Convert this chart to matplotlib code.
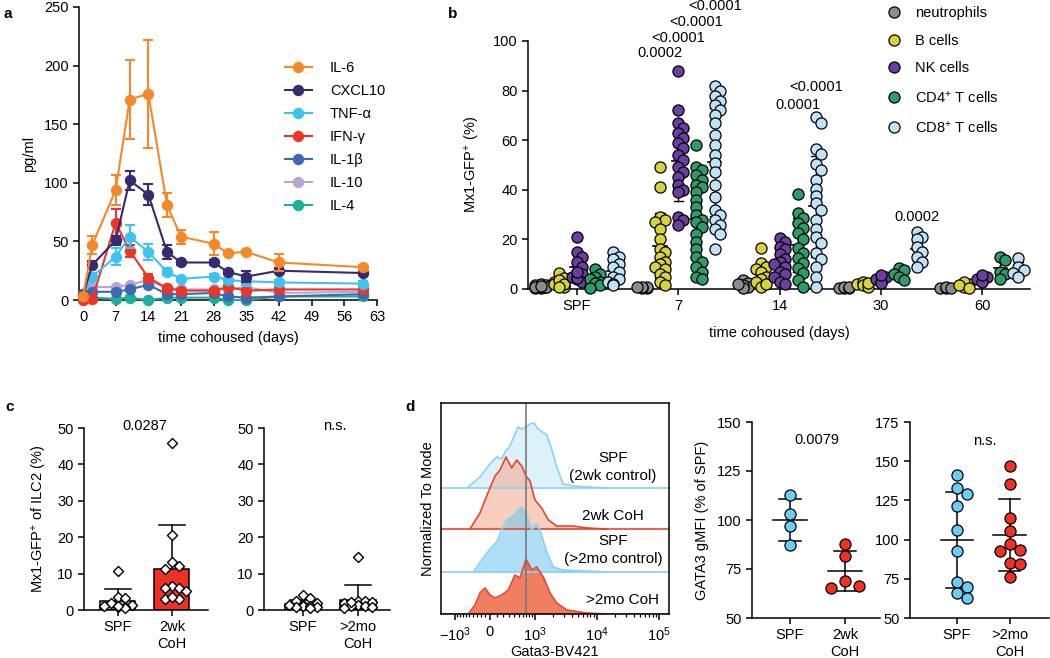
import matplotlib

matplotlib.use("Agg")

import matplotlib.pyplot as plt
import numpy as np
from matplotlib.lines import Line2D

plt.rcParams["font.family"] = ["Liberation Sans", "DejaVu Sans"]
plt.rcParams["mathtext.fontset"] = "custom"
plt.rcParams["mathtext.rm"] = "Liberation Sans"
plt.rcParams["mathtext.it"] = "Liberation Sans:italic"
plt.rcParams["mathtext.bf"] = "Liberation Sans:bold"
plt.rcParams["font.size"] = 10.5
plt.rcParams["axes.linewidth"] = 1.1
plt.rcParams["xtick.major.width"] = 1.1
plt.rcParams["ytick.major.width"] = 1.1
plt.rcParams["xtick.major.size"] = 4
plt.rcParams["ytick.major.size"] = 4

# --- panel a: serum cytokines over time ---
DAYS = [0, 2, 7, 10, 14, 18, 21, 28, 31, 35, 42, 60]
CYTOKINES = ["IL-6", "CXCL10", "TNF-α", "IFN-γ", "IL-1β", "IL-10", "IL-4"]
IL6 = [3, 47, 94, 171, 176, 81, 54, 48, 40, 41, 32, 28]
IL6_SEM = [0, 8, 13, 34, 46, 10, 6, 10, 1, 2, 7, 2]
CXCL10 = [4, 30, 51, 102, 90, 41, 32, 32, 24, 20, 25, 23]
CXCL10_SEM = [0, 3, 4, 8, 9, 6, 2, 2, 2, 5, 2, 2]
TNFA = [3, 20, 37, 54, 41, 24, 18, 20, 17, 16, 15, 14]
TNFA_SEM = [0, 3, 7, 10, 7, 3, 2, 2, 2, 2, 2, 2]
IFNG = [0, 1, 66, 42, 19, 10, 8, 8, 11, 8, 9, 9]
IFNG_SEM = [0, 1, 12, 5, 3, 2, 1, 1, 2, 1, 1, 1]
IL1B = [5, 7, 7, 9, 13, 5, 5, 6, 3, 2, 3, 5]
IL10 = [5, 11, 11, 13, 17, 10, 9, 9, 9, 11, 6, 7]
IL4 = [2, 2, 1, 2, 0, 2, 2, 2, 0, 0, 3, 3]
SMALL_SEM = [1] * len(DAYS)
CYTO_COLORS = ["#F5892A", "#372A6E", "#3EC3F0", "#EC3527", "#3C69B3", "#B7A5D4", "#1DAF98"]

# --- panel b: Mx1-GFP+ per cell type, per time point ---
B_GROUPS = ["SPF", "7", "14", "30", "60"]
CELL_TYPES = ["neutrophils", "B cells", "NK cells", "CD4$^{+}$ T cells", "CD8$^{+}$ T cells"]
CELL_COLORS = ["#8C8C8C", "#D8D23C", "#6A3FA0", "#2E9C6A", "#BFE2F6"]
NEUTROPHILS = [
    [0.5, 1, 1, 1.5, 2, 0.5, 1, 1.5, 0.8, 1.2],
    [0.5, 1, 0.5, 1, 0.8],
    [3.5, 2.5, 1, 1.5, 0.5, 2],
    [0.5, 0.5, 1, 0.3, 0.8],
    [0.5, 0.3, 0.8, 0.5],
]
B_CELLS = [
    [6.5, 4.5, 3, 2.5, 2, 1.5, 1, 3.5, 2, 1],
    [49, 41, 29, 28, 27, 24, 20, 16, 15, 13, 11, 10, 9, 8, 6, 5, 3, 1.5],
    [16.5, 10.5, 9, 8, 7, 5, 4, 3, 1, 2],
    [2, 3, 1.5, 0.8, 2.5],
    [1, 2, 3, 1.5, 0.5],
]
NK_CELLS = [
    [21, 15, 13, 11, 9, 6, 5, 4, 3, 4.5, 7],
    [88, 72, 67, 65, 63, 61, 59, 57, 54, 52, 49, 47, 45, 42, 40, 39, 29, 28, 26],
    [20.5, 19, 17, 16, 14, 12, 11, 10, 9, 7, 6, 5, 3, 2],
    [5, 4, 3, 2.5, 5.5],
    [4, 5, 3, 5.5],
]
CD4_T = [
    [8, 6, 5, 3, 2, 1, 4, 2.5, 1.5, 0.5],
    [58, 49, 48, 46, 44, 42, 41, 39, 36, 33, 30, 28, 27, 25, 22, 19, 16, 13, 11, 9, 7, 5, 4],
    [38.5, 30.5, 28.5, 26.5, 24.5, 22.5, 20, 16.5, 14.5, 12.5, 10.5, 8.5, 6.5, 3.5, 1],
    [8.5, 7.5, 6, 5, 3.5],
    [13, 11.5, 7, 6, 4],
]
CD8_T = [
    [15, 13, 12, 10, 9, 7, 5, 4, 3, 2, 1.5],
    [82, 80, 78, 76, 74, 72, 70, 67, 62, 58, 54, 51, 47, 42, 37, 32, 30, 28, 26, 24, 22, 16],
    [69.5, 67, 56.5, 54.5, 50.5, 48, 44, 40.5, 37.5, 34.5, 32, 28, 24, 21, 18.5, 14.5,
     12, 9, 5, 1],
    [23, 21, 20, 17, 15, 13, 11, 9],
    [12.5, 9, 7.5, 6.5, 5],
]
B_PVALS = [(1, 1, "0.0002", 95), (1, 2, "<0.0001", 101.3), (1, 3, "<0.0001", 107.7),
           (1, 4, "<0.0001", 114), (2, 3, "0.0001", 74), (2, 4, "<0.0001", 81.5),
           (3, 4, "0.0002", 29)]

# --- panel c: Mx1-GFP+ of ILC2 ---
C1_SPF = [10.8, 3.7, 3.3, 2.0, 1.5, 1.0, 0.8, 0.9, 0.6, 1.0]
C1_COH = [45.8, 20.7, 13.3, 12.0, 11.4, 6.6, 6.1, 5.3, 3.0, 2.9, 3.5, 6.1]
C2_SPF = [4.0, 3.2, 2.4, 2.0, 1.5, 1.2, 1.0, 0.8, 0.5, 0.9, 1.4]
C2_COH = [14.5, 2.6, 2.4, 2.2, 1.9, 1.5, 1.0, 0.5, 2.3, 1.2, 0.8]

# --- panel d: Gata3 histograms (logicle display units) ---
H1_X = [-23, -10, 0, 6.7, 11.7, 16, 19, 23, 28, 31.7, 36, 40, 44, 48, 52.7, 56.7, 61.7,
        66.7, 73, 83, 96.7, 116.7]
H1_Y = [0, 11, 24, 31, 29, 38, 40, 49, 61, 59, 61, 64, 65, 59, 56, 53, 39, 21, 4, 2, 1, 0]
H2_X = [-20, -10, -3.3, 5, 10, 16, 21.7, 26.7, 31.7, 36, 40, 45, 51.7, 58.3, 66.7, 83,
        96.7, 116.7]
H2_Y = [0, 16, 33, 53, 59, 72, 61, 69, 63, 53, 48, 29, 21, 9, 3, 3, 1, 0]
H3_X = [-16.7, -8.3, 0, 6.7, 11.7, 16.7, 21.7, 26.7, 31.7, 36.7, 41.7, 46, 50, 56.7, 63.3,
        73.3, 96.7, 116.7]
H3_Y = [0, 12, 23, 30, 42, 52, 55, 60, 65, 57, 42, 48, 42, 20, 5, 2, 1, 0]
H4_X = [-21.7, -15, -10, -5, 0, 5, 11.7, 18.3, 25, 30, 36, 41.7, 46.7, 53.3, 60, 66.7,
        76.7, 96.7, 116.7]
H4_Y = [0, 9, 21, 26, 19, 16, 19, 24, 39, 36, 55, 44, 47, 37, 21, 11, 4, 1, 0]
HIST_LABELS = ["SPF\n(2wk control)", "2wk CoH", "SPF\n(>2mo control)", ">2mo CoH"]

# --- panel d: GATA3 gMFI ---
D1_SPF = [112.6, 102.9, 97.0, 87.0]
D1_COH = [87.8, 81.6, 68.7, 65.3, 66.5]
D2_SPF = [141.4, 133.1, 129.4, 121.4, 106.4, 92.7, 73.0, 69.8, 66.0, 62.8]
D2_COH = [147.2, 135.3, 113.6, 105.5, 97.4, 92.6, 93.6, 85.3, 84.7, 76.2]

SPF_BLUE = "#6CCDF4"
COH_RED = "#EE3124"


def swarm(vals, dy, dx, max_k):
    """Simple beeswarm: spread points sideways when their values are close."""
    vals = np.asarray(vals, float)
    slots = np.zeros(len(vals), int)
    cands = [0]
    for k in range(1, max_k + 1):
        cands += [k, -k]
    placed = []
    for i in np.argsort(vals)[::-1]:
        best, best_hits = 0, None
        for c in cands:
            hits = sum(1 for j in placed if abs(vals[i] - vals[j]) < dy and slots[j] == c)
            if hits == 0:
                best = c
                break
            if best_hits is None or hits < best_hits:
                best, best_hits = c, hits
        slots[i] = best
        placed.append(i)
    return slots * dx


def clean(ax):
    ax.spines["top"].set_visible(False)
    ax.spines["right"].set_visible(False)


fig = plt.figure(figsize=(10.5, 6.58), dpi=100)


def ax_px(left, top, right, bottom):
    return fig.add_axes([left / 1050, 1 - bottom / 658, (right - left) / 1050,
                         (bottom - top) / 658])


# ---------------- panel a ----------------
ax = ax_px(79, 7, 377, 300)
series = [(IL6, IL6_SEM), (CXCL10, CXCL10_SEM), (TNFA, TNFA_SEM), (IFNG, IFNG_SEM),
          (IL1B, SMALL_SEM), (IL10, SMALL_SEM), (IL4, SMALL_SEM)]
for k in range(len(series) - 1, -1, -1):
    vals, sem = series[k]
    ax.errorbar(DAYS, vals, yerr=sem, color=CYTO_COLORS[k], marker="o", ms=7.2, lw=1.5,
                capsize=3.5, capthick=1.5, elinewidth=1.5, clip_on=False,
                zorder=3 + (len(series) - k) * 0.1)
ax.set_xlim(-0.86, 63)
ax.set_ylim(0, 250)
ax.set_xticks(range(0, 64, 7))
ax.set_yticks(range(0, 251, 50))
ax.set_xlabel("time cohoused (days)", labelpad=5)
ax.set_ylabel("pg/ml", labelpad=6)
clean(ax)
a_handles = [Line2D([], [], color=col, marker="o", ms=7.2, lw=1.5) for col in CYTO_COLORS]
ax.legend(a_handles, CYTOKINES, loc="upper left", bbox_to_anchor=(0.69, 0.815),
          frameon=False, borderaxespad=0, borderpad=0, handlelength=1.9,
          handletextpad=1.2, labelspacing=0.62)

# ---------------- panel b ----------------
ax = ax_px(528, 41, 1030, 289)
all_types = [NEUTROPHILS, B_CELLS, NK_CELLS, CD4_T, CD8_T]
for c, data in enumerate(all_types):
    for g, vals in enumerate(data):
        xc = g + (c - 2) * 0.18
        v = np.asarray(vals, float)
        xs = xc + swarm(v, 3.0, 0.05, 1)
        m, sd = v.mean(), v.std(ddof=1)
        lo = max(m - sd, 0)
        ax.plot([xc, xc], [lo, m + sd], color="black", lw=1, zorder=2, clip_on=False)
        for yv in (lo, m + sd):
            ax.plot([xc - 0.045, xc + 0.045], [yv, yv], color="black", lw=1, zorder=2)
        ax.plot([xc - 0.065, xc + 0.065], [m, m], color="black", lw=1.2, zorder=2)
        ax.scatter(xs, v, s=64, color=CELL_COLORS[c], edgecolor="black", linewidth=0.9,
                   zorder=3, clip_on=False)
for g, c, txt, yv in B_PVALS:
    ax.text(g + (c - 2) * 0.18, yv, txt, ha="center", va="center", clip_on=False)
ax.set_xlim(-0.484, 4.474)
ax.set_ylim(0, 100)
ax.set_xticks(range(len(B_GROUPS)))
ax.set_xticklabels(B_GROUPS)
ax.set_yticks(range(0, 101, 20))
ax.set_xlabel("time cohoused (days)", labelpad=9)
ax.set_ylabel("Mx1-GFP$^{+}$ (%)", labelpad=8)
clean(ax)
leg_handles = [Line2D([], [], ls="none", marker="o", ms=8, mfc=col, mec="black", mew=0.9)
               for col in CELL_COLORS]
ax.legend(leg_handles, CELL_TYPES, loc="upper left", bbox_to_anchor=(0.715, 1.142),
          frameon=False, borderaxespad=0, borderpad=0, handlelength=1.0,
          handletextpad=0.9, labelspacing=0.95)

# ---------------- panel c ----------------
c_sets = [(84, 208, C1_SPF, C1_COH, "2wk\nCoH", "0.0287", 0.5, (-0.63, 1.67)),
          (264, 390, C2_SPF, C2_COH, ">2mo\nCoH", "n.s.", 0.58, (-0.71, 1.58))]
for idx, (left, right, spf, coh, lab, pval, px_, xl) in enumerate(c_sets):
    ax = ax_px(left, 428, right, 610)
    for x, vals, col in [(0, spf, SPF_BLUE), (1, coh, COH_RED)]:
        v = np.asarray(vals, float)
        m, sd = v.mean(), v.std(ddof=1)
        ax.bar(x, m, width=0.65, color=col, edgecolor="black", linewidth=1.1, zorder=2)
        ax.plot([x, x], [m, m + sd], color="black", lw=1.1, zorder=2)
        ax.plot([x - 0.24, x + 0.24], [m + sd, m + sd], color="black", lw=1.1, zorder=2)
        ax.scatter(x + swarm(v, 2.5, 0.13, 2), v, marker="D", s=26, color="white",
                   edgecolor="black", linewidth=1.0, zorder=3, clip_on=False)
    ax.text(px_, 48.5, pval, ha="center", va="bottom")
    ax.set_xlim(*xl)
    ax.set_ylim(0, 50)
    ax.set_yticks(range(0, 51, 10))
    ax.set_xticks([0, 1])
    ax.set_xticklabels(["SPF", lab])
    clean(ax)
    if idx == 0:
        ax.set_ylabel("Mx1-GFP$^{+}$ of ILC2 (%)", labelpad=6)

# ---------------- panel d: histograms ----------------
ax = ax_px(441, 403, 669, 614)
hists = [(H1_X, H1_Y, 126, "#DDF1FB", 1.0, "#86D3F4"),
         (H2_X, H2_Y, 85, "#F4A98A", 0.55, "#E8452C"),
         (H3_X, H3_Y, 42, "#6CC6F0", 0.55, "#86D3F4"),
         (H4_X, H4_Y, 0, "#EC6A45", 0.85, "#E8452C")]
for hx, hy, base, fc, alpha, lc in hists:
    hx = np.asarray(hx, float)
    hy = np.asarray(hy, float) + base
    ax.fill_between(hx, base, hy, color=fc, alpha=alpha, lw=0)
    ax.axhline(base, color=lc, lw=1.2)
    ax.plot(hx, hy, color=lc, lw=1.2)
ax.axvline(36, color="#7A7A7A", lw=1.2)
lab_pos = [(0.754, 0.697), (0.754, 0.464), (0.754, 0.303), (0.794, 0.066)]
for (tx, ty), txt in zip(lab_pos, HIST_LABELS):
    ax.text(tx, ty, txt, transform=ax.transAxes, ha="center", va="center",
            fontsize=11, linespacing=1.3)


def logicle(v):
    v = np.asarray(v, float)
    return np.where(v < 0, 27.14 * np.arcsinh(v / 595), 27.14 * np.arcsinh(v / 395))


major = [-1000, 0, 1000, 10000, 100000]
minor = ([-k * 100 for k in range(1, 10)] + [k * 100 for k in range(1, 10)]
         + [k * 1000 for k in range(2, 10)] + [k * 10000 for k in range(2, 10)])
ax.set_xticks(logicle(major))
ax.set_xticklabels(["$-10^{3}$", "0", "$10^{3}$", "$10^{4}$", "$10^{5}$"])
ax.set_xticks(logicle(minor), minor=True)
ax.tick_params(axis="x", which="minor", length=2.5, width=0.9)
ax.tick_params(axis="x", which="major", length=4.5)
ax.set_xlim(-49, 179)
ax.set_ylim(0, 211)
ax.set_yticks([])
ax.set_ylabel("Normalized To Mode", labelpad=4)
ax.set_xlabel("Gata3-BV421", labelpad=1)

# ---------------- panel d: gMFI ----------------
d_sets = [(752, 880, D1_SPF, D1_COH, "2wk\nCoH", "0.0079", (50, 150), 25, (-0.69, 1.64),
           5.6, 0.26, 0.49, 141),
          (910, 1049, D2_SPF, D2_COH, ">2mo\nCoH", "n.s.", (50, 175), 25, (-0.89, 1.75),
           7.0, 0.19, 0.53, 163)]
for idx, (left, right, spf, coh, lab, pval, yl, step, xl, dy, dx, px_, py_) in enumerate(d_sets):
    ax = ax_px(left, 422, right, 618)
    for x, vals, col in [(0, spf, SPF_BLUE), (1, coh, COH_RED)]:
        v = np.asarray(vals, float)
        m, sd = v.mean(), v.std(ddof=1)
        ax.plot([x, x], [m - sd, m + sd], color="black", lw=1.1, zorder=2)
        for yv in (m - sd, m + sd):
            ax.plot([x - 0.2, x + 0.2], [yv, yv], color="black", lw=1.1, zorder=2)
        ax.plot([x - 0.31, x + 0.31], [m, m], color="black", lw=1.1, zorder=2)
        ax.scatter(x + swarm(v, dy, dx, 1), v, s=64, color=col, edgecolor="black",
                   linewidth=0.9, zorder=3, clip_on=False)
    ax.text(px_, py_, pval, ha="center", va="center")
    ax.set_xlim(*xl)
    ax.set_ylim(*yl)
    ax.set_yticks(range(yl[0], yl[1] + 1, step))
    ax.set_xticks([0, 1])
    ax.set_xticklabels(["SPF", lab])
    clean(ax)
    if idx == 0:
        ax.set_ylabel("GATA3 gMFI (% of SPF)", labelpad=6)

# panel letters
for txt, x, y in [("a", 3, 14), ("b", 448, 14), ("c", 5, 407), ("d", 405, 407)]:
    fig.text(x / 1050, 1 - y / 658, txt, fontsize=11, fontweight="bold", ha="left",
             va="center")

fig.savefig("out.png", dpi=100)
